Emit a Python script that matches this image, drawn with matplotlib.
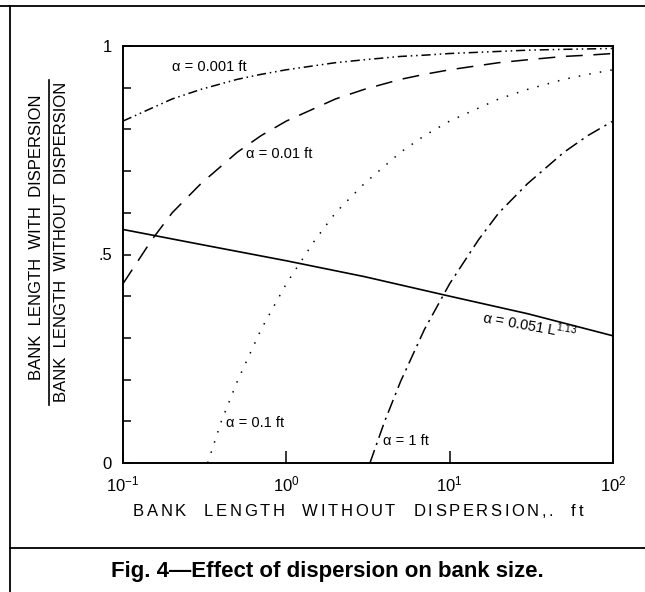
import matplotlib

matplotlib.use("Agg")

import matplotlib.pyplot as plt
from matplotlib.lines import Line2D
from matplotlib.ticker import FixedLocator, NullLocator
from matplotlib.textpath import TextToPath
from matplotlib.font_manager import FontProperties

plt.rcParams["font.family"] = ["Liberation Sans", "DejaVu Sans"]
plt.rcParams["mathtext.default"] = "regular"

# values
L_a0001 = [0.1, 0.2, 0.3, 0.5, 0.7, 1, 2, 3, 5, 7, 10, 20, 30, 50, 70, 100]
r_a0001 = [0.82, 0.873, 0.896, 0.92, 0.932, 0.943, 0.96, 0.967, 0.975, 0.978,
           0.982, 0.987, 0.99, 0.992, 0.993, 0.994]

L_a001 = [0.1, 0.15, 0.2, 0.3, 0.5, 0.7, 1, 2, 3, 5, 7, 10, 20, 30, 50, 70, 100]
r_a001 = [0.43, 0.535, 0.60, 0.67, 0.745, 0.785, 0.82, 0.873, 0.896, 0.92,
          0.932, 0.943, 0.96, 0.967, 0.975, 0.978, 0.982]

L_a01 = [0.33, 0.4, 0.5, 0.7, 1, 1.5, 2, 3, 5, 7, 10, 20, 30, 50, 70, 100]
r_a01 = [0.0, 0.10, 0.195, 0.32, 0.43, 0.535, 0.60, 0.67, 0.745, 0.785,
         0.82, 0.873, 0.896, 0.92, 0.932, 0.943]

L_a1 = [3.25, 4, 5, 7, 10, 15, 20, 30, 50, 70, 100]
r_a1 = [0.0, 0.10, 0.195, 0.32, 0.43, 0.535, 0.60, 0.67, 0.745, 0.785, 0.82]

L_pow = [0.1, 0.3, 1, 3, 10, 30, 100]
r_pow = [0.56, 0.524, 0.485, 0.447, 0.40, 0.358, 0.305]

xtick_pos = [0.1, 1, 10, 100]
xtick_lbl = ["$10^{-1}$", "$10^{0}$", "$10^{1}$", "$10^{2}$"]

W, H = 645, 592
fig = plt.figure(figsize=(W / 100, H / 100), dpi=100)
ax = fig.add_axes([123 / W, 1 - 463 / H, 490 / W, 417 / H])

t2p = TextToPath()


def tracked_text(words, cx, cy, size, total, word_gap=7):
    # spaced lettering like the original's x-axis label
    prop = FontProperties(family=["Liberation Sans"], size=size)
    widths = [[t2p.get_text_width_height_descent(c, prop, ismath=False)[0] * 100 / 72
               for c in w] for w in words]
    ink = sum(sum(w) for w in widths)
    n_in = sum(len(w) - 1 for w in widths)
    g = (total - ink) / (n_in + word_gap * (len(words) - 1))
    pos = -total / 2
    for wi, w in enumerate(words):
        for c, cw in zip(w, widths[wi]):
            fig.text((cx + pos) / W, 1 - cy / H, c, fontsize=size,
                     ha="left", va="baseline")
            pos += cw + g
        pos += (word_gap - 1) * g


lw = 1.1
ax.plot(L_a0001, r_a0001, color="black", lw=lw, linestyle=(0, (6, 2.5, 1, 2.5, 1, 2.5)))
ax.plot(L_a001, r_a001, color="black", lw=lw, linestyle=(0, (11, 7)))
ax.plot(L_a01, r_a01, color="black", lw=lw, linestyle=(0, (1, 6)))
ax.plot(L_a1, r_a1, color="black", lw=lw, linestyle=(0, (9, 3.5, 1.5, 3.5)))
ax.plot(L_pow, r_pow, color="black", lw=1.2, linestyle="-")

ax.set_xscale("log")
ax.set_xlim(0.1, 100)
ax.set_ylim(0, 1)

ax.xaxis.set_major_locator(FixedLocator(xtick_pos))
ax.xaxis.set_minor_locator(NullLocator())
ax.set_xticklabels(xtick_lbl)
ax.yaxis.set_major_locator(FixedLocator([0, 0.5, 1]))
ax.yaxis.set_minor_locator(FixedLocator([0.1, 0.2, 0.3, 0.4, 0.6, 0.7, 0.8, 0.9]))
ax.set_yticklabels(["0", ".5", "1"])
ax.tick_params(axis="x", which="major", direction="in", length=9, width=1.1,
               labelsize=12, pad=8)
ax.tick_params(axis="y", which="both", direction="in", length=6, width=1.1,
               labelsize=12, pad=8)
for s in ax.spines.values():
    s.set_linewidth(1.4)

fs = 10.5
ax.text(0.2, 0.95, "α = 0.001 ft", fontsize=fs, va="center", ha="left")
ax.text(0.57, 0.74, "α = 0.01 ft", fontsize=fs, va="center", ha="left")
ax.text(0.43, 0.096, "α = 0.1 ft", fontsize=fs, va="center", ha="left")
ax.text(3.9, 0.053, "α = 1 ft", fontsize=fs, va="center", ha="left")
ax.text(31, 0.33, "α = 0.051 L$^{1.13}$", fontsize=fs, va="center", ha="center",
        rotation=-10)

tracked_text(["BANK", "LENGTH", "WITHOUT", "DISPERSION,.", "ft"], 358, 516, 12, 450)

# fraction-style y label
fig.text(37 / W, 1 - 237 / H, "BANK  LENGTH  WITH  DISPERSION", rotation=90,
         fontsize=12, ha="center", va="center")
fig.text(62 / W, 1 - 242 / H, "BANK  LENGTH  WITHOUT  DISPERSION", rotation=90,
         fontsize=12, ha="center", va="center")
fig.add_artist(Line2D([49 / W, 49 / W], [1 - 405 / H, 1 - 80 / H],
                      transform=fig.transFigure, color="black", lw=1.2))

# frame lines around the figure
fig.add_artist(Line2D([0, 1], [1 - 6 / H, 1 - 6 / H], transform=fig.transFigure,
                      color="black", lw=1.3))
fig.add_artist(Line2D([10 / W, 10 / W], [0, 1 - 6 / H], transform=fig.transFigure,
                      color="black", lw=1.3))
fig.add_artist(Line2D([10 / W, 1], [1 - 548 / H, 1 - 548 / H],
                      transform=fig.transFigure, color="black", lw=1.3))

fig.text(327 / W, 1 - 571 / H, "Fig. 4—Effect of dispersion on bank size.",
         fontsize=16, fontweight="bold", ha="center", va="center")

fig.savefig("out.png", dpi=100)
